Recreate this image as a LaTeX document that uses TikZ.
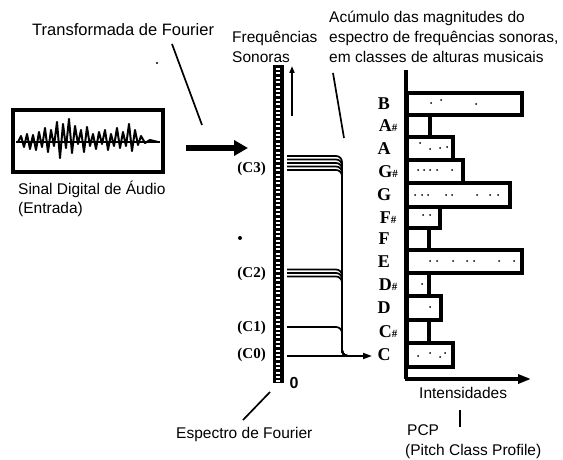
\documentclass[tikz,border=0pt]{standalone}
\usepackage{fontspec}
\setmainfont{Liberation Sans}
\newfontfamily\lblfont{Liberation Serif}
\usetikzlibrary{arrows.meta}
\newcommand{\shp}{{\fontsize{11}{11}\selectfont\#}}
\begin{document}
\begin{tikzpicture}[x=1pt,y=-1pt,
  txt/.style={inner sep=0pt, anchor=base west, font=\fontsize{15.5}{18}\selectfont},
  lbl/.style={inner sep=0pt, font=\lblfont\bfseries\fontsize{18}{18}\selectfont},
  clbl/.style={inner sep=0pt, anchor=east, font=\lblfont\bfseries\fontsize{15}{15}\selectfont},
  thin/.style={line width=1.7pt},
  barbox/.style={line width=3.2pt, fill=white},
  stip/.style={fill=black}]
\useasboundingbox (0,0) rectangle (563,460);

% texts
\node[txt, font=\fontsize{16.5}{18}\selectfont] (tf) at (32,36) {Transformada de Fourier};
\node[txt] (fr1) at (232,43) {Frequências};
\node[txt] (fr2) at (232,63) {Sonoras};
\node[txt] (ac1) at (329,23) {Acúmulo das magnitudes do};
\node[txt] (ac2) at (329,43) {espectro de frequências sonoras,};
\node[txt] (ac3) at (329,63) {em classes de alturas musicais};
\node[txt] (sd1) at (18,194) {Sinal Digital de Áudio};
\node[txt] (sd2) at (18,213) {(Entrada)};
\node[txt] (ef) at (176,438) {Espectro de Fourier};
\node[txt] (int) at (419,398) {Intensidades};
\node[txt] (pcp1) at (407,435) {PCP};
\node[txt] (pcp2) at (405,455) {(Pitch Class Profile)};

% stray dots
\fill (157,63) circle (1.1);
\fill (240,238) circle (2);

% signal box
\draw[line width=3.2pt] (13,110) rectangle (163,172);
\draw[line width=2.4pt] (16,142) -- (160,142);
\draw[line width=2pt, line join=round] (18,142) -- (21,136) -- (24,147) -- (27,134) -- (30,149) -- (33,135) -- (36,150) -- (39,132) -- (42,147) -- (45,128) -- (48,152) -- (51,130) -- (54,146) -- (57,122) -- (60,158) -- (63,124) -- (66,148) -- (69,119) -- (72,153) -- (75,126) -- (78,144) -- (81,130) -- (84,152) -- (87,127) -- (90,146) -- (93,134) -- (96,149) -- (99,132) -- (102,144) -- (105,130) -- (108,150) -- (111,134) -- (114,146) -- (117,128) -- (120,148) -- (123,132) -- (126,146) -- (129,124) -- (132,151) -- (135,130) -- (138,145) -- (141,136) -- (145,143) -- (150,140) -- (158,142);

% connector from Transformada
\coordinate (tfend) at (202,125);
\draw[thin] (172,44) -- (tfend);
% big arrow
\coordinate (ba1) at (186,148);
\coordinate (ba2) at (248,148);
\draw[line width=5.5pt, -{Triangle[length=14pt,width=15pt]}] (ba1) -- (ba2);

% Fourier spectrum ladder
\fill (272.5,65) rectangle (283.5,383);
\foreach \i in {0,...,71} {
  \fill[white] (275.8,68+4.4*\i) rectangle ++(4.4,2);
}
\node[inner sep=0pt, font=\bfseries\fontsize{16}{16}\selectfont] (zero) at (294,383) {0};
\coordinate (ua1) at (292,116);
\coordinate (ua2) at (292,66);
\draw[line width=2pt, -{Triangle[length=7pt,width=5pt]}] (ua1) -- (ua2);

% C labels
\node[clbl] (c3) at (266,169) {(C3)};
\node[clbl] (c2) at (266,274) {(C2)};
\node[clbl] (c1) at (266,328) {(C1)};
\node[clbl] (c0) at (266,355) {(C0)};

% spectrum lines
\foreach \y in {156,159.5,163,166.5,170,269.5,273,276.5,327} {
  \draw[thin, rounded corners=6pt] (287,\y) -| (342,356) -- (352,356);
}
\coordinate (cend) at (372,356);
\draw[thin, -{Triangle[length=9pt,width=6pt]}] (287,356) -- (cend);

% connector from Acumulo
\draw[thin] (333,73) -- (344,138);
% connector Espectro
\draw[thin] (270,392) -- (243,420);
% connector PCP
\draw[thin] (460,410) -- (460,427);

% PCP bars
\foreach \t/\b/\r in {93/115/522, 115/137/430, 137/160/453, 160/183/463, 183/207/510, 207/228/440, 228/250/429, 250/273/522, 273/296/429, 296/320/441, 320/343/429, 343/367/453} {
  \draw[barbox] (407,\t) rectangle (\r,\b);
}
% stipple
\foreach \p in {(431,103),(441,100),(476,104),(420,143),(430,149),(440,148),(447,147),(418,170),(424,170),(430,170),(437,170),(452,170),(415,195),(422,195),(428,195),(446,195),(452,195),(477,195),(490,195),(498,195),(423,215),(430,215),(430,261),(437,261),(453,261),(467,261),(474,261),(499,261),(514,261),(422,284),(430,307),(418,356),(430,353),(440,357),(445,353)}
  \fill \p circle (1);

% axes
\draw[line width=3.2pt] (406,70) -- (406,379);
\coordinate (ax0) at (405,379);
\coordinate (ax1) at (531,379);
\draw[line width=3.2pt, -{Triangle[length=13pt,width=9pt]}] (ax0) -- (ax1);

% pitch labels
\node[lbl] (pB) at (384,104) {B};
\node[lbl] (pAs) at (388,126) {A\shp};
\node[lbl] (pA) at (384,148.5) {A};
\node[lbl] (pGs) at (388,171.5) {G\shp};
\node[lbl] (pG) at (384,195) {G};
\node[lbl] (pFs) at (388,217.5) {F\shp};
\node[lbl] (pF) at (384,239) {F};
\node[lbl] (pE) at (384,261.5) {E};
\node[lbl] (pDs) at (388,284.5) {D\shp};
\node[lbl] (pD) at (384,308) {D};
\node[lbl] (pCs) at (388,331.5) {C\shp};
\node[lbl] (pC) at (384,355) {C};
\end{tikzpicture}
\end{document}
